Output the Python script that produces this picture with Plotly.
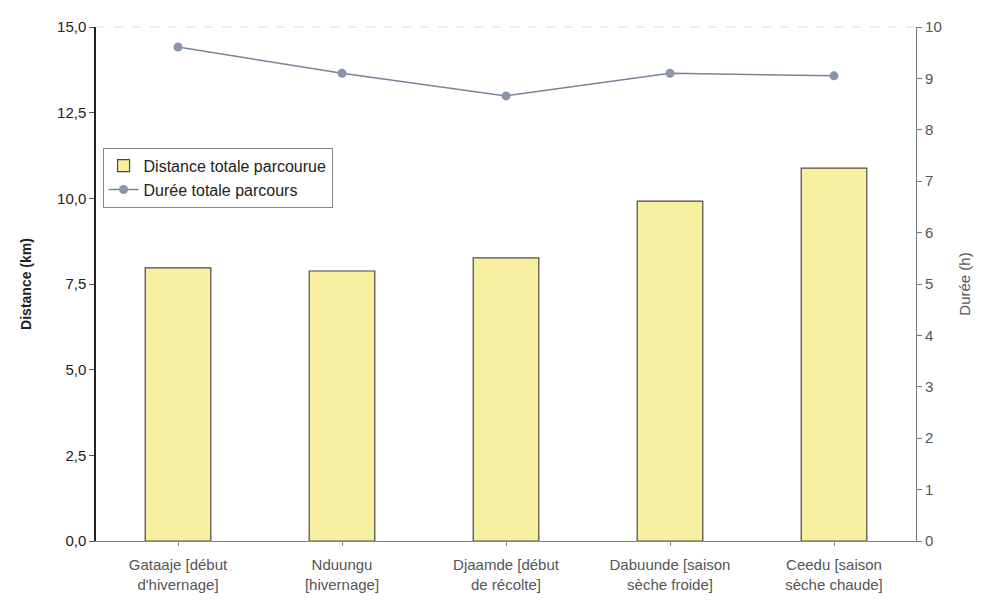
import plotly.graph_objects as go

categories = ["Gataaje [début<br>d'hivernage]", "Nduungu<br>[hivernage]",
              "Djaamde [début<br>de récolte]", "Dabuunde [saison<br>sèche froide]",
              "Ceedu [saison<br>sèche chaude]"]
distance_km = [7.97, 7.88, 8.26, 9.92, 10.88]
duree_h = [9.61, 9.10, 8.66, 9.10, 9.05]
left_ticks = [0, 2.5, 5, 7.5, 10, 12.5, 15]
right_ticks = list(range(0, 11))

fig = go.Figure()
fig.add_trace(go.Bar(
    x=categories, y=distance_km, name="Distance totale parcourue",
    marker=dict(color="#f8f0a0", line=dict(color="#4a4a4a", width=1.2)),
    yaxis="y"))
fig.add_trace(go.Scatter(
    x=categories, y=duree_h, name="Durée totale parcours", mode="lines+markers",
    line=dict(color="#7a8298", width=1.5),
    marker=dict(color="#8a94ac", size=9),
    yaxis="y2"))

fig.update_layout(
    width=983, height=601,
    margin=dict(l=96, r=67, t=27, b=60),
    paper_bgcolor="white", plot_bgcolor="white",
    separators=", ",
    font=dict(family="Liberation Sans, Arial", size=15, color="#333"),
    bargap=0.6,
    showlegend=True,
    legend=dict(x=0.008, y=0.765, xanchor="left", yanchor="top",
                bgcolor="white", bordercolor="#888", borderwidth=1,
                font=dict(size=16, color="#222"), tracegroupgap=0,
                itemwidth=30),
    xaxis=dict(showline=True, linecolor="#888", linewidth=1,
               ticks="outside", ticklen=4, tickcolor="#888",
               tickfont=dict(size=15, color="#555"),
               ticklabelstandoff=6, automargin=False,
               showgrid=False),
    yaxis=dict(range=[0, 15], tickvals=left_ticks, tickformat=".1f",
               showline=True, linecolor="#222", linewidth=1.5,
               ticks="outside", ticklen=5, tickcolor="#555",
               showgrid=False, zeroline=False, automargin=False,
               tickfont=dict(size=15, color="#222"),
               title=dict(text="<b>Distance (km)</b>", font=dict(size=14, color="#222"), standoff=22)),
    yaxis2=dict(range=[0, 10], tickvals=right_ticks, overlaying="y", side="right",
                showline=True, linecolor="#777", linewidth=1.2,
                ticks="outside", ticklen=5, tickcolor="#777",
                showgrid=False, zeroline=False, automargin=False,
                tickfont=dict(size=15, color="#555"),
                title=dict(text="Durée (h)", font=dict(size=15, color="#555"), standoff=18)),
)
fig.add_shape(type="line", xref="paper", yref="paper", x0=0, x1=1, y0=1, y1=1,
              line=dict(color="#dddddd", width=1, dash="dash"))

fig.write_html("out.html")
